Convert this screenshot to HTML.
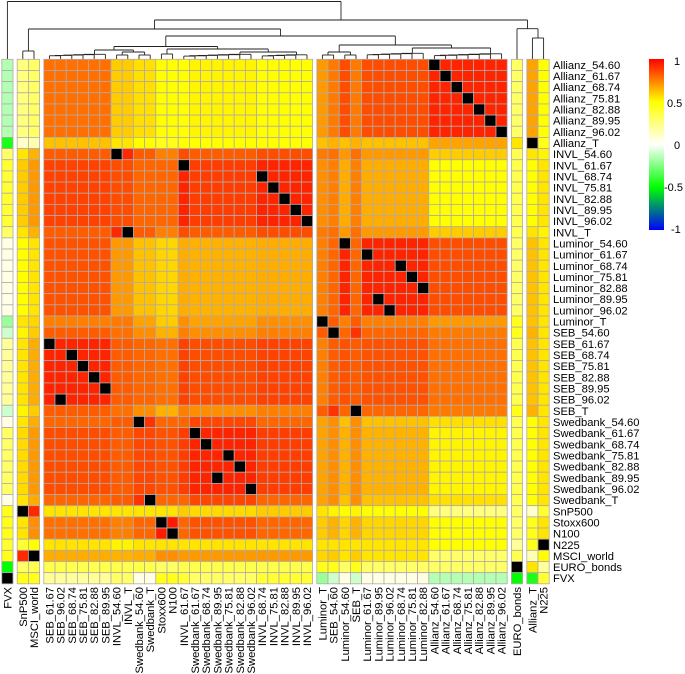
<!DOCTYPE html>
<html><head><meta charset="utf-8"><style>
html,body{margin:0;padding:0;background:#fff;}
svg{display:block;font-family:"Liberation Sans",Arial,sans-serif;}
</style></head><body>
<svg id="chart" width="685" height="674" viewBox="0 0 685 674" xmlns="http://www.w3.org/2000/svg">
<defs><linearGradient id="lg" x1="0" y1="1" x2="0" y2="0">
<stop offset="0" stop-color="#0000ff"/><stop offset="0.25" stop-color="#00ff00"/><stop offset="0.5" stop-color="#ffffff"/><stop offset="0.75" stop-color="#ffff00"/><stop offset="1" stop-color="#ff0000"/></linearGradient></defs>
<g id="dendro"></g>
<g id="cells"></g>
<g id="rowlabels"></g>
<g id="collabels"></g>
<g>
<rect x="649" y="59" width="15" height="171" fill="url(#lg)"/>
<text x="674" y="65" font-size="11">1</text>
<text x="667" y="107" font-size="11">0.5</text>
<text x="674" y="149" font-size="11">0</text>
<text x="664" y="191" font-size="11">-0.5</text>
<text x="671" y="233" font-size="11">-1</text>
</g>
</svg>
<script>
const rowNames = ["Allianz_54.60","Allianz_61.67","Allianz_68.74","Allianz_75.81","Allianz_82.88","Allianz_89.95","Allianz_96.02","Allianz_T",
"INVL_54.60","INVL_61.67","INVL_68.74","INVL_75.81","INVL_82.88","INVL_89.95","INVL_96.02","INVL_T",
"Luminor_54.60","Luminor_61.67","Luminor_68.74","Luminor_75.81","Luminor_82.88","Luminor_89.95","Luminor_96.02","Luminor_T",
"SEB_54.60","SEB_61.67","SEB_68.74","SEB_75.81","SEB_82.88","SEB_89.95","SEB_96.02","SEB_T",
"Swedbank_54.60","Swedbank_61.67","Swedbank_68.74","Swedbank_75.81","Swedbank_82.88","Swedbank_89.95","Swedbank_96.02","Swedbank_T",
"SnP500","Stoxx600","N100","N225","MSCI_world","EURO_bonds","FVX"];
const colNames = ["FVX","SnP500","MSCI_world","SEB_61.67","SEB_96.02","SEB_68.74","SEB_75.81","SEB_82.88","SEB_89.95","INVL_54.60","INVL_T","Swedbank_54.60","Swedbank_T","Stoxx600","N100","INVL_61.67","Swedbank_61.67","Swedbank_68.74","Swedbank_89.95","Swedbank_75.81","Swedbank_82.88","Swedbank_96.02","INVL_68.74","INVL_75.81","INVL_82.88","INVL_89.95","INVL_96.02",
"Luminor_T","SEB_54.60","Luminor_54.60","SEB_T","Luminor_61.67","Luminor_89.95","Luminor_96.02","Luminor_68.74","Luminor_75.81","Luminor_82.88","Allianz_54.60","Allianz_61.67","Allianz_68.74","Allianz_75.81","Allianz_82.88","Allianz_89.95","Allianz_96.02","EURO_bonds","Allianz_T","N225"];
const groups = ["A","AT","I","IT","L","LT","S","ST","W","WT","SP","EU","NK","MW","EB","FX"];
const corrA  = [0.93,0.68,0.50,0.60,0.85,0.70,0.78,0.76,0.52,0.56,0.25,0.50,0.50,0.30,0.30,-0.15];
const corrAT = [0.68,1,0.50,0.55,0.62,0.62,0.62,0.65,0.50,0.50,0.10,0.45,0.45,0.15,0.55,-0.45];
const corrI  = [0.50,0.50,0.93,0.85,0.66,0.72,0.87,0.75,0.88,0.80,0.60,0.80,0.55,0.70,0.35,0.40];
const corrIT = [0.60,0.55,0.85,0.92,0.70,0.76,0.82,0.78,0.82,0.82,0.55,0.75,0.52,0.65,0.35,0.30];
const corrL  = [0.85,0.62,0.66,0.70,0.93,0.75,0.84,0.80,0.65,0.62,0.50,0.58,0.55,0.55,0.30,0.05];
const corrLT = [0.70,0.62,0.72,0.76,0.75,0.90,0.75,0.82,0.68,0.68,0.55,0.60,0.55,0.58,0.45,-0.20];
const corrS  = [0.78,0.62,0.87,0.82,0.84,0.75,0.93,0.82,0.85,0.80,0.55,0.78,0.55,0.66,0.35,0.20];
const corrST = [0.76,0.65,0.75,0.78,0.80,0.82,0.82,0.90,0.72,0.72,0.52,0.65,0.55,0.60,0.45,-0.10];
const corrW  = [0.52,0.50,0.88,0.82,0.65,0.68,0.85,0.72,0.93,0.86,0.57,0.84,0.55,0.70,0.35,0.30];
const corrWT = [0.56,0.50,0.80,0.82,0.62,0.68,0.80,0.72,0.86,0.90,0.55,0.80,0.55,0.66,0.35,0.05];
const corrSP = [0.25,0.10,0.60,0.55,0.50,0.55,0.55,0.52,0.57,0.55,1,0.55,0.40,0.92,0.30,0.45];
const corrEU = [0.50,0.45,0.80,0.75,0.58,0.60,0.78,0.65,0.84,0.80,0.55,0.95,0.55,0.72,0.30,0.45];
const corrNK = [0.50,0.45,0.55,0.52,0.55,0.55,0.55,0.55,0.55,0.55,0.40,0.55,1,0.50,0.20,0.40];
const corrMW = [0.30,0.15,0.70,0.65,0.55,0.58,0.66,0.60,0.70,0.66,0.92,0.72,0.50,1,0.35,0.45];
const corrEB = [0.30,0.55,0.35,0.35,0.30,0.45,0.35,0.45,0.35,0.35,0.30,0.30,0.20,0.35,1,-0.50];
const corrFX = [-0.15,-0.45,0.40,0.30,0.05,-0.20,0.20,-0.10,0.30,0.05,0.45,0.45,0.40,0.45,-0.50,1];
const legendTicks = [1,0.5,0,-0.5,-1];

const corrRows = {A:corrA,AT:corrAT,I:corrI,IT:corrIT,L:corrL,LT:corrLT,S:corrS,ST:corrST,W:corrW,WT:corrWT,SP:corrSP,EU:corrEU,NK:corrNK,MW:corrMW,EB:corrEB,FX:corrFX};
function groupOf(n){
  if(n==="SnP500")return "SP"; if(n==="Stoxx600"||n==="N100")return "EU";
  if(n==="N225")return "NK"; if(n==="MSCI_world")return "MW";
  if(n==="EURO_bonds")return "EB"; if(n==="FVX")return "FX";
  const p={Allianz:"A",INVL:"I",Luminor:"L",SEB:"S",Swedbank:"W"}[n.split("_")[0]];
  if(n.endsWith("_T"))return p+"T";
  if(n.endsWith("54.60")&&p!=="A"&&p!=="L")return p+"T";
  return p;
}
function corr(r,c){const gr=groupOf(r),gc=groupOf(c);return corrRows[gr][groups.indexOf(gc)];}
function lerp(a,b,t){return Math.round(a+(b-a)*t);}
function colorOf(v){
  const st=[[-1,[0,0,255]],[-0.5,[0,255,0]],[0,[255,255,255]],[0.5,[255,255,0]],[1,[255,0,0]]];
  for(let i=0;i<4;i++){const [a,ca]=st[i],[b,cb]=st[i+1];
    if(v<=b){const t=(v-a)/(b-a);return `rgb(${lerp(ca[0],cb[0],t)},${lerp(ca[1],cb[1],t)},${lerp(ca[2],cb[2],t)})`;}}
  return "rgb(255,0,0)";
}
const NS="http://www.w3.org/2000/svg";
const X0=1.8, Y0=59.3, CW=11.2, RH=11.16, GAP=4.2;
const gapAfter=[0,2,26,43,44];
function colX(j){let g=0;for(const a of gapAfter)if(j>a)g++;return X0+j*CW+g*GAP;}
function rowY(i){return Y0+i*RH;}

const cells=document.getElementById("cells");
rowNames.forEach((r,i)=>{colNames.forEach((c,j)=>{
  const rect=document.createElementNS(NS,"rect");
  rect.setAttribute("x",colX(j));rect.setAttribute("y",rowY(i));
  rect.setAttribute("width",CW);rect.setAttribute("height",RH);
  rect.setAttribute("fill",r===c?"#000":colorOf(corr(r,c)));
  rect.setAttribute("stroke","#b3aaa6");rect.setAttribute("stroke-width","0.8");
  
  
  cells.appendChild(rect);
});});

const rl=document.getElementById("rowlabels");
rowNames.forEach((r,i)=>{
  const t=document.createElementNS(NS,"text");
  t.setAttribute("x",553);t.setAttribute("y",rowY(i)+RH/2+4);
  t.setAttribute("font-size","11.2");t.textContent=r;
  
  
  rl.appendChild(t);
});
const cl=document.getElementById("collabels");
colNames.forEach((c,j)=>{
  const t=document.createElementNS(NS,"text");
  const x=colX(j)+CW/2+4, y=587;
  t.setAttribute("x",x);t.setAttribute("y",y);t.setAttribute("text-anchor","end");
  t.setAttribute("transform",`rotate(-90 ${x} ${y})`);
  t.setAttribute("font-size","11.2");t.textContent=c;
  
  
  cl.appendChild(t);
});

function chain(ids,h){let n=ids[0];ids.slice(1).forEach((id,k)=>{n={h:h+ (ids.length-1-k)*0.35,c:[n,id]};});return n;}
const b3=k=>3+k, b4=k=>27+k;
const tree={h:1.5,c:[0,{h:20,c:[
  {h:29,c:[{h:51,c:[1,2]},{h:36,c:[
    {h:46.5,c:[
      {h:50,c:[chain([b3(0),b3(1),b3(2),b3(3),b3(4),b3(5)],54),{h:52,c:[{h:55,c:[b3(6),b3(7)]},{h:55,c:[b3(8),b3(9)]}]}]},
      {h:49,c:[{h:54,c:[b3(10),b3(11)]},{h:52,c:[chain([b3(12),b3(13),b3(14),b3(15),b3(16),b3(17),b3(18)],54),chain([b3(19),b3(20),b3(21),b3(22),b3(23)],54.5)]}]}
    ]},
    {h:45,c:[{h:52,c:[{h:55,c:[b4(0),b4(1)]},{h:55,c:[b4(2),b4(3)]}]},{h:48,c:[chain([b4(4),b4(5),b4(6),b4(7),b4(8),b4(9)],53),chain([b4(10),b4(11),b4(12),b4(13),b4(14),b4(15),b4(16)],53.5)]}]}
  ]}]},
  {h:28.7,c:[44,{h:38,c:[45,46]}]}
]}]};
const dg=document.getElementById("dendro");
function line(x1,y1,x2,y2){const l=document.createElementNS(NS,"line");
  l.setAttribute("x1",x1);l.setAttribute("y1",y1);l.setAttribute("x2",x2);l.setAttribute("y2",y2);
  l.setAttribute("stroke","#222");l.setAttribute("stroke-width","0.9");
  
  
  dg.appendChild(l);}
function draw(n){
  if(typeof n==="number")return {x:colX(n)+CW/2,y:Y0};
  const ch=n.c.map(draw);
  const xs=ch.map(c=>c.x);
  line(Math.min(...xs),n.h,Math.max(...xs),n.h);
  ch.forEach(c=>line(c.x,n.h,c.x,c.y));
  return {x:(xs[0]+xs[xs.length-1])/2,y:n.h};
}
draw(tree);
</script>
</body></html>
